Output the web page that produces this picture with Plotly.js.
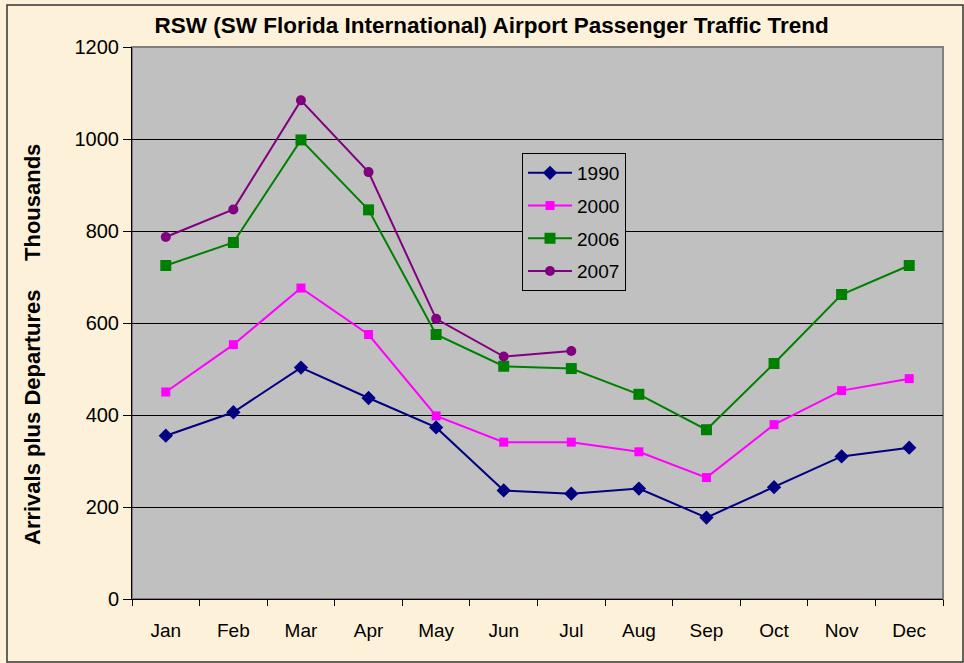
<!DOCTYPE html>
<html>
<head>
<meta charset="utf-8">
<script src="https://cdn.plot.ly/plotly-3.0.1.min.js"></script>
<style>
html,body{margin:0;padding:0;background:#FDF2D9;}
#chart{width:964px;height:663px;}
</style>
</head>
<body>
<div id="chart"></div>
<script>
const months = ["Jan","Feb","Mar","Apr","May","Jun","Jul","Aug","Sep","Oct","Nov","Dec"];
const y1990 = [355, 406, 503, 437, 373, 236, 229, 240, 177, 243, 310, 329];
const y2000 = [450, 553, 676, 575, 398, 341, 341, 320, 264, 379, 453, 479];
const y2006 = [725, 775, 998, 846, 575, 506, 501, 445, 368, 512, 662, 725];
const y2007 = [787, 847, 1084, 928, 609, 527, 539];
const seriesNames = ["1990", "2000", "2006", "2007"];
const yTicks = [0, 200, 400, 600, 800, 1000, 1200];

const F = "Liberation Sans, Arial, sans-serif";

const traces = [
  {x: months, y: y1990, name: seriesNames[0], legendgroup: "a", type: "scatter", mode: "lines+markers",
   line: {color: "#000080", width: 2}, marker: {symbol: "diamond", size: 11, color: "#000080"}},
  {x: months, y: y2000, name: seriesNames[1], legendgroup: "b", type: "scatter", mode: "lines+markers",
   line: {color: "#FF00FF", width: 2}, marker: {symbol: "square", size: 9, color: "#FF00FF"}},
  {x: months.slice(0, y2006.length), y: y2006, name: seriesNames[2], legendgroup: "c", type: "scatter", mode: "lines+markers",
   line: {color: "#008000", width: 2}, marker: {symbol: "square", size: 11, color: "#008000"}},
  {x: months.slice(0, y2007.length), y: y2007, name: seriesNames[3], legendgroup: "d", type: "scatter", mode: "lines+markers",
   line: {color: "#800080", width: 2}, marker: {symbol: "circle", size: 10, color: "#800080"}}
];

const L = 132, R = 21, T = 47, B = 64, W = 964, H = 663;
const pw = W - L - R, ph = H - T - B;
const px = v => (v - L) / pw;
const py = v => (H - B - v) / ph;

const layout = {
  width: W, height: H,
  margin: {l: L, r: R, t: T, b: B, pad: 0},
  paper_bgcolor: "#FDF2D9",
  plot_bgcolor: "#C0C0C0",
  font: {family: F, size: 19, color: "#000"},
  title: {text: "<b>RSW (SW Florida International) Airport Passenger Traffic Trend</b>",
          font: {family: F, size: 22.5, color: "#000"}, x: 0.51, xanchor: "center", y: 1 - 25 / H, yanchor: "middle"},
  showlegend: true,
  legend: {x: px(522), y: py(153), xanchor: "left", yanchor: "top",
           bgcolor: "#C0C0C0", bordercolor: "#000", borderwidth: 1,
           tracegroupgap: 5, itemwidth: 44,
           font: {family: F, size: 19, color: "#000"}, traceorder: "grouped"},
  xaxis: {type: "category", categoryarray: months, range: [-0.5, 11.5],
          showgrid: false, zeroline: false, showline: true, linecolor: "#000", linewidth: 1,
          ticks: "outside", tickson: "boundaries", ticklen: 6, tickcolor: "#000",
          ticklabelstandoff: 14,
          tickfont: {family: F, size: 19, color: "#000"}, fixedrange: true},
  yaxis: {range: [0, 1200], tickvals: yTicks, ticktext: yTicks.map(String),
          showgrid: true, gridcolor: "#000", gridwidth: 1, zeroline: false,
          showline: true, linecolor: "#000", linewidth: 1,
          ticks: "outside", ticklen: 8, tickcolor: "#000",
          tickfont: {family: F, size: 20, color: "#000"}, fixedrange: true},
  shapes: [
    {type: "rect", xref: "paper", yref: "paper", x0: 0, x1: 1, y0: 0, y1: 1,
     line: {color: "#808080", width: 2}, fillcolor: "rgba(0,0,0,0)", layer: "below"},
    {type: "rect", xref: "paper", yref: "paper", x0: px(7), x1: px(963), y0: py(662), y1: py(5),
     line: {color: "#333", width: 1.5}, fillcolor: "rgba(0,0,0,0)"}
  ],
  annotations: [
    {text: "<b>Arrivals plus Departures</b>", xref: "paper", yref: "paper",
     x: px(32), y: py(417), textangle: -90, showarrow: false,
     font: {family: F, size: 22, color: "#000"}, xanchor: "center", yanchor: "middle"},
    {text: "<b>Thousands</b>", xref: "paper", yref: "paper",
     x: px(32), y: py(203), textangle: -90, showarrow: false,
     font: {family: F, size: 22, color: "#000"}, xanchor: "center", yanchor: "middle"}
  ]
};

Plotly.newPlot("chart", traces, layout, {displayModeBar: false, staticPlot: true});
</script>
</body>
</html>
